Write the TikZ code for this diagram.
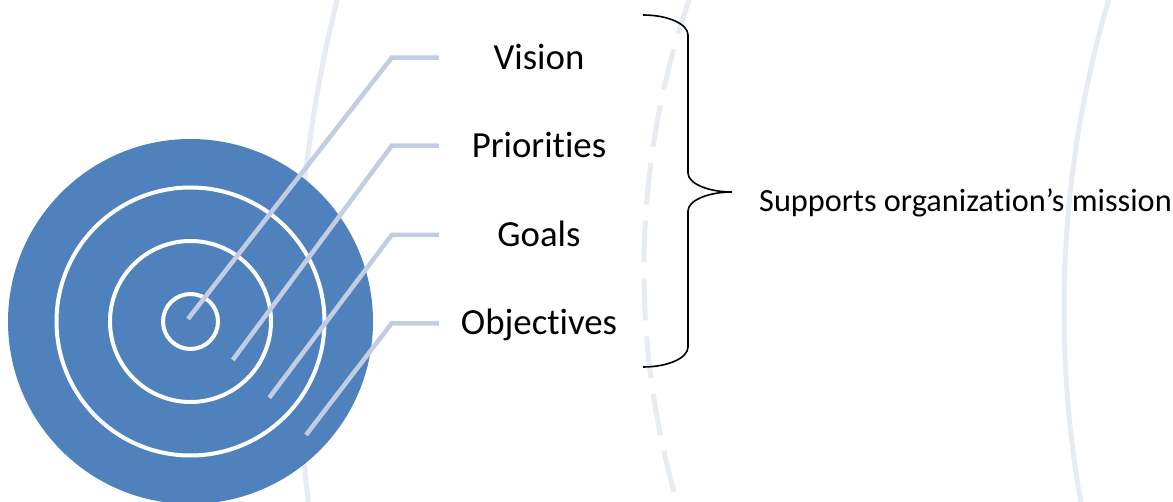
\documentclass[tikz,border=0pt]{standalone}
\usepackage{fontspec}
\setmainfont{Carlito}[Ligatures={TeX,NoCommon}]
\usepackage{tikz}

\definecolor{targetblue}{RGB}{79,129,189}
\definecolor{leadergray}{RGB}{195,205,225}
\definecolor{arcgray}{RGB}{231,235,242}

\begin{document}
\begin{tikzpicture}[x=1pt,y=1pt,
        ring/.style={circle,draw=white,line width=4pt,inner sep=0pt},
        leader/.style={draw=leadergray,line width=4.5pt},
        bgarc/.style={draw=arcgray,line width=5pt},
        tier/.style={minimum width=200pt,inner sep=0pt,text height=23pt,text depth=0pt,font=\fontsize{36.8}{40}\selectfont}]
        \useasboundingbox (0,0) rectangle (1173,501);
        \clip (0,0) rectangle (1173,501);
        % faint arcs behind everything
        \draw[bgarc] (1630,175) circle[radius=1333];
        \draw[bgarc,dash pattern=on 42pt off 16pt] (1472,231) circle[radius=828];
        \draw[bgarc] (2156,191) circle[radius=1092];
        % target
        \node[circle,fill=targetblue,minimum size=365pt,inner sep=0pt] (target) at (190.5,179.5) {};
        \node[ring,minimum size=268pt] (ring3) at (target) {};
        \node[ring,minimum size=161pt] (ring2) at (target) {};
        \node[ring,minimum size=55pt] (ring1) at (target) {};
        \coordinate (p1) at (188,182);
        \coordinate (p2) at (232.7,141);
        \coordinate (p3) at (269.3,103.3);
        \coordinate (p4) at (306,66);
        \coordinate (e1) at (391.7,443.3);
        \coordinate (e2) at (391.7,355.3);
        \coordinate (e3) at (391.7,266);
        \coordinate (e4) at (391.7,177.7);
        % labels
        \node[tier] (vision) at (539,443.3) {Vision};
        \node[tier] (priorities) at (539,355.3) {Priorities};
        \node[tier] (goals) at (539,266) {Goals};
        \node[tier] (objectives) at (539,177.7) {Objectives};
        \draw[leader] (p1) -- (e1) -- (vision.west);
        \draw[leader] (p2) -- (e2) -- (priorities.west);
        \draw[leader] (p3) -- (e3) -- (goals.west);
        \draw[leader] (p4) -- (e4) -- (objectives.west);
        % brace
        \coordinate (bracetop) at (643,486);
        \coordinate (tip) at (732,309);
        \coordinate (bracebot) at (643,134);
        \draw[line width=1.6pt] (bracetop) .. controls (668,486) and (688,477) .. (688,466) -- (688,328)
            .. controls (688,317.5) and (708,309) .. (tip)
            .. controls (708,309) and (688,300.5) .. (688,290) -- (688,154)
            .. controls (688,143) and (668,134) .. (bracebot);
        \node[anchor=west,inner sep=0pt,text height=20.4pt,text depth=0pt,font=\fontsize{32.3}{38}\selectfont] (mission) at (759,300) {Supports organization’s mission};
    \end{tikzpicture}
\end{document}
